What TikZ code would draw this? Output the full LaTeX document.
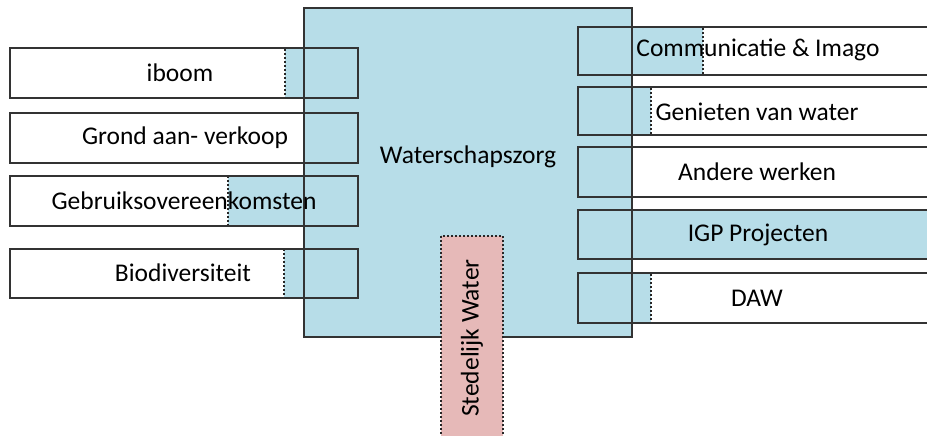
\documentclass[tikz,border=0pt]{standalone}
\usepackage{fontspec}
\setmainfont{Carlito}
\definecolor{wblue}{HTML}{B7DDE8}
\definecolor{wpink}{HTML}{E6B9B8}
\definecolor{edge}{HTML}{333333}
\begin{document}
\begin{tikzpicture}[x=1pt,y=-1pt,
  boxedge/.style={draw=edge,line width=1.4pt},
  dotedge/.style={draw=black!85,line width=2pt,dash pattern=on 2pt off 2pt},
  lbl/.style={font=\fontsize{25.5}{30}\selectfont,inner sep=0pt}]
\useasboundingbox (0,0) rectangle (927,436);
% left boxes (white)
\foreach \ya/\yb in {48/98,113/163,176/226,249/298}
  \fill[white] (10,\ya) rectangle (358,\yb);
% right boxes (white)
\foreach \ya/\yb in {27/75,87/135,147/197,210/259,273/323}
  \fill[white] (578,\ya) rectangle (940,\yb);
% main area
\fill[wblue] (304,8) rectangle (632,337);
% blue extensions
\fill[wblue] (285,48) rectangle (304,98);
\fill[wblue] (228,176) rectangle (304,226);
\fill[wblue] (284,249) rectangle (304,298);
\fill[wblue] (632,27) rectangle (703,75);
\fill[wblue] (632,87) rectangle (651,135);
\fill[wblue] (632,210) rectangle (940,259);
\fill[wblue] (632,273) rectangle (651,323);
% dotted outlines
\draw[dotedge] (304,48) -- (285,48) -- (285,98) -- (304,98);
\draw[dotedge] (304,176) -- (228,176) -- (228,226) -- (304,226);
\draw[dotedge] (304,249) -- (284,249) -- (284,298) -- (304,298);
\draw[dotedge] (632,27) -- (703,27) -- (703,75) -- (632,75);
\draw[dotedge] (632,87) -- (651,87) -- (651,135) -- (632,135);
\draw[dotedge] (632,273) -- (651,273) -- (651,323) -- (632,323);
% box edges
\foreach \ya/\yb in {48/98,113/163,176/226,249/298}
  \draw[boxedge] (10,\ya) rectangle (358,\yb);
\foreach \ya/\yb in {27/75,87/135,147/197,210/259,273/323}
  \draw[boxedge] (940,\ya) -- (578,\ya) -- (578,\yb) -- (940,\yb);
\draw[boxedge] (304,8) rectangle (632,337);
\node[lbl] (main) at (468,157) {Waterschapszorg};
% stedelijk water
\path[fill=wpink,dotedge] (441,236) rectangle (503,440);
\node[lbl,rotate=90] (sw) at (472,338) {Stedelijk Water};
% labels
\node[lbl] (iboom) at (180,73) {iboom};
\node[lbl] (grond) at (185,138) {Grond aan- verkoop};
\node[lbl] (gebr) at (184,201) {Gebruiksovereenkomsten};
\node[lbl] (bio) at (183,273) {Biodiversiteit};
\node[lbl] (comm) at (758,50) {Communicatie \& Imago};
\node[lbl] (gen) at (757,112) {Genieten van water};
\node[lbl] (and) at (757,172) {Andere werken};
\node[lbl] (igp) at (758,235) {IGP Projecten};
\node[lbl] (daw) at (757,298) {DAW};
\end{tikzpicture}
\end{document}
